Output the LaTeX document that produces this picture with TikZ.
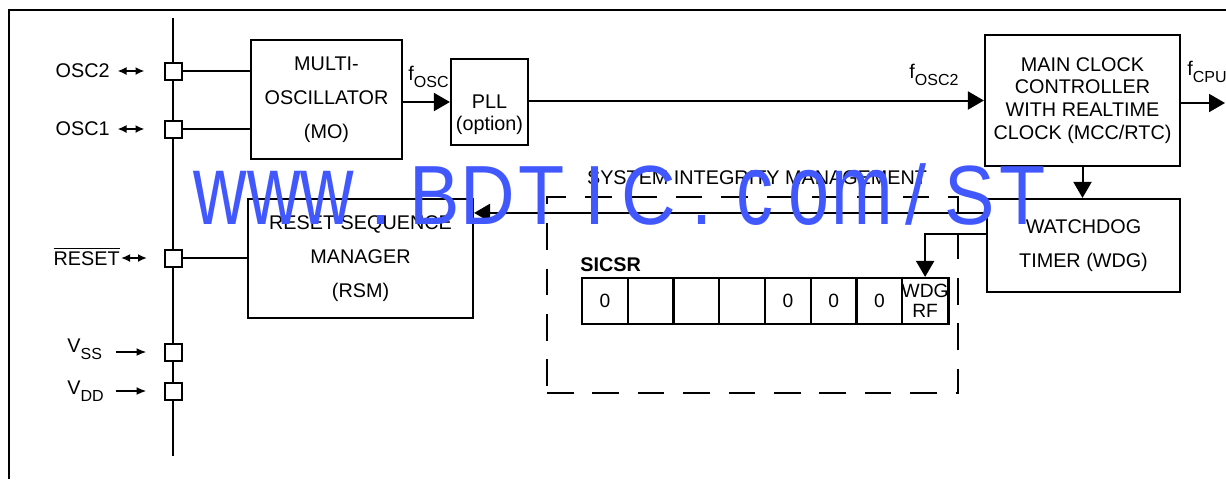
\documentclass[tikz,border=0pt]{standalone}
\usepackage{fontspec}
\usepackage{graphicx}
\setmainfont{Liberation Sans}
\usetikzlibrary{arrows.meta,positioning}
\definecolor{wmblue}{RGB}{66,88,255}
\newcommand{\sbs}[1]{\raisebox{-3.8pt}{\fontsize{8}{8}\selectfont #1}}
\newcommand{\wmc}[1]{\makebox[26.75pt]{\scalebox{0.9}[1]{#1}}}
\newcommand{\wml}[1]{\makebox[26.75pt]{\scalebox{0.88}[1.2]{#1}}}

\begin{document}
\begin{tikzpicture}[
x=0.5pt, y=-0.5pt,
box/.style={draw, line width=1.1pt, align=center, inner sep=0pt, font=\fontsize{9.9}{11.4}\selectfont},
loose/.style={font=\fontsize{9.9}{17}\selectfont},
pinbox/.style={draw, line width=1pt, fill=white, minimum size=8.5pt, inner sep=0pt},
cell/.style={draw, line width=1.1pt, minimum width=22.9pt, minimum height=23pt, inner sep=0pt, align=center, font=\fontsize{9.6}{10}\selectfont},
lbl/.style={inner sep=0pt, font=\fontsize{9.9}{11}\selectfont},
conn/.style={line width=1pt},
arrow/.style={conn, -{Triangle[length=8pt,width=9pt]}},
dblarrow/.style={line width=0.9pt, {Latex[length=4.5pt,width=4pt]}-{Latex[length=4.5pt,width=4pt]}},
inarrow/.style={line width=0.9pt, -{Latex[length=5pt,width=4pt]}}
]
\useasboundingbox (0,0) rectangle (1226,479);

% frame and pin bus
\draw[line width=1.3pt] (1226,10) -| (9,479);
\coordinate (bustop) at (173,18);
\coordinate (busbot) at (173,456);
\draw[conn] (bustop) -- (busbot);

% blocks
\node[box, loose, minimum width=75.5pt, minimum height=59.5pt] (mo) at (326.5,99.5) {MULTI-\\OSCILLATOR\\(MO)};
\node[box, minimum width=38.5pt, minimum height=43pt] (pll) at (489.5,102) {};
\node[lbl, align=center] (pllt) at ([yshift=-6.5pt]pll.center) {PLL\\(option)};
\node[box, minimum width=97.5pt, minimum height=65.5pt] (mcc) at (1082.5,100.5) {MAIN CLOCK\\CONTROLLER\\WITH REALTIME\\CLOCK (MCC/RTC)};
\node[box, loose, minimum width=96.5pt, minimum height=46.5pt] (wdg) at (1083.5,245.5) {WATCHDOG\\TIMER (WDG)};
\node[box, loose, minimum width=112.5pt, minimum height=59.5pt] (rsm) at (360.5,258.5) {RESET SEQUENCE\\MANAGER\\(RSM)};

% system integrity management
\node[draw, line width=1.1pt, dash pattern=on 13.3pt off 9.4pt, minimum width=205.5pt, minimum height=98pt, inner sep=0pt] (sim) at (752.5,295) {};
\node[lbl] (simt) at (757,178) {SYSTEM INTEGRITY MANAGEMENT};
\node[lbl, anchor=west, font=\bfseries\fontsize{9.9}{11}\selectfont] (sicsr) at (580,265) {SICSR};
\foreach \bit [count=\i from 0] in {0,{},{},{},0,0,0,{WDG\\RF}}
  \node[cell] (c\i) at ({582+45.75*(\i+0.5)},301) {\bit};

% pins
\node[pinbox] (p1) at (173,71) {};
\node[pinbox] (p2) at (173,129) {};
\node[pinbox] (p3) at (173,258) {};
\node[pinbox] (p4) at (173,352) {};
\node[pinbox] (p5) at (173,391) {};
\draw[conn] (p1.east) -- (p1 -| mo.west);
\draw[conn] (p2.east) -- (p2 -| mo.west);
\draw[conn] (p3.east) -- (p3 -| rsm.west);

\node[lbl, anchor=base east] (osc2) at (110,77) {OSC2};
\node[lbl, anchor=base east] (osc1) at (110,135) {OSC1};
\node[lbl, anchor=base east] (rst) at (120,265) {$\overline{\mbox{RESET}}$};
\node[lbl, anchor=base west] (vss) at (67,352) {V\sbs{SS}};
\node[lbl, anchor=base west] (vdd) at (67,394) {V\sbs{DD}};
\draw[dblarrow] ([xshift=-23pt]p1.west) -- ([xshift=-9.5pt]p1.west);
\draw[dblarrow] ([xshift=-23pt]p2.west) -- ([xshift=-9.5pt]p2.west);
\draw[dblarrow] ([xshift=-21.25pt]p3.west) -- ([xshift=-8.25pt]p3.west);
\draw[inarrow] ([xshift=-24pt]p4.west) -- ([xshift=-8.5pt]p4.west);
\draw[inarrow] ([xshift=-24pt]p5.west) -- ([xshift=-8.5pt]p5.west);

% clocks and resets
\draw[arrow] (mo.east |- pll.west) -- (pll.west);
\node[lbl, anchor=base west] (fosc) at (408,80) {f\sbs{OSC}};
\draw[arrow] (pll.east |- mcc.west) -- (mcc.west);
\node[lbl, anchor=base west] (fosc2) at (909,78) {f\sbs{OSC2}};
\coordinate (cpu) at (1225,103);
\draw[arrow] (mcc.east |- cpu) -- (cpu);
\node[lbl, anchor=base west] (fcpu) at (1187,75) {f\sbs{CPU}};
\draw[arrow] (mcc.south) -- (mcc.south |- wdg.north);
\draw[arrow] ([yshift=-7.5pt]wdg.north west) -- ([yshift=-7.5pt]wdg.north west -| rsm.east);
\draw[arrow] ([yshift=-18pt]wdg.north west) -| (c7.north);

% watermark
\node[anchor=base west, inner sep=0pt, text=wmblue, font=\fontsize{42}{42}\selectfont] (wm) at (193.25,224)
  {\wml{w}\wml{w}\wml{w}\wmc{.}\wmc{B}\wmc{D}\wmc{T}\wmc{I}\wmc{C}\wmc{.}\wml{c}\wml{o}\wml{m}\wmc{/}\wmc{S}\wmc{T}};
\end{tikzpicture}
\end{document}
